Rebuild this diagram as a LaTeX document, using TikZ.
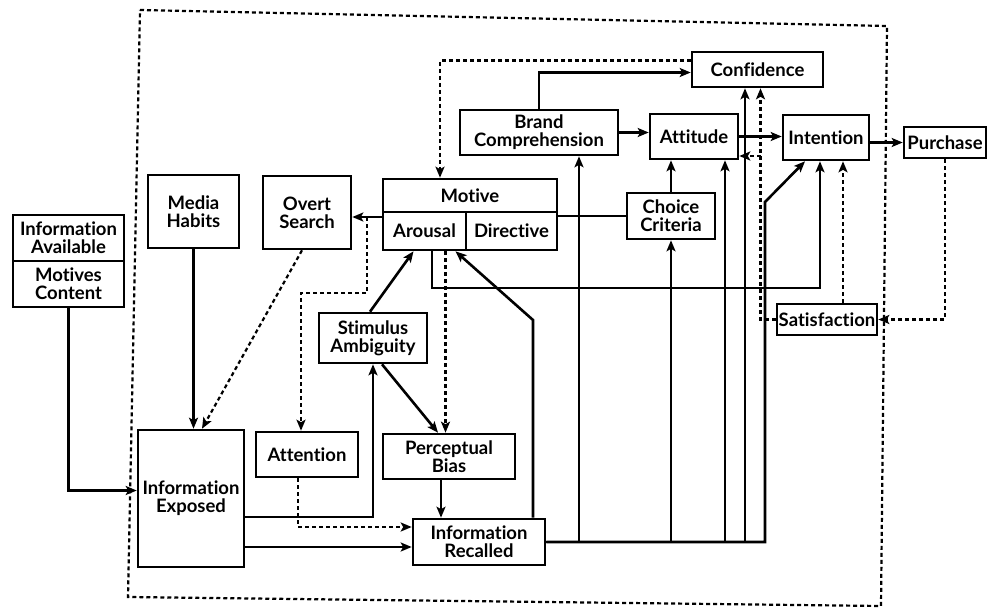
\documentclass[tikz,border=0pt]{standalone}
\usepackage{fontspec}
\setmainfont{Lato}[Ligatures=NoCommon]
\usetikzlibrary{arrows.meta,calc,positioning}

\begin{document}
\begin{tikzpicture}[x=1pt,y=-1pt,font=\bfseries\fontsize{18.5}{18}\selectfont,>={Stealth[length=11pt,width=9pt,inset=2.5pt]},
    box/.style={draw,line width=2.6pt,inner sep=0pt,align=center},
    line/.style={line width=2.6pt},
    dsh/.style={line width=2.2pt,dash pattern=on 4pt off 3pt}]
    \useasboundingbox (0,0) rectangle (988,610);
    \draw[dsh] (140,10)--(887,26)--(881,606)--(128,597)--cycle;
    % boxes
    \node[box,minimum width=111,minimum height=46] (avail) at (68.5,238) {Information\\Available};
    \node[box,minimum width=111,minimum height=46] (motcont) at (68.5,284) {Motives\\Content};
    \node[box,minimum width=91,minimum height=73] (media) at (193.5,211.5) {Media\\Habits};
    \node[box,minimum width=88,minimum height=73] (overt) at (307,212.5) {Overt\\Search};
    \node[box,minimum width=174,minimum height=33] (motive) at (470,195.5) {Motive};
    \node[box,minimum width=83,minimum height=38] (arousal) at (424.5,231) {Arousal};
    \node[box,minimum width=91,minimum height=38] (direct) at (511.5,231) {Directive};
    \node[box,minimum width=158,minimum height=45] (brand) at (539,132.5) {Brand\\Comprehension};
    \node[box,minimum width=131,minimum height=35] (conf) at (757.5,69.5) {Confidence};
    \node[box,minimum width=88,minimum height=45] (att) at (694,136.5) {Attitude};
    \node[box,minimum width=86,minimum height=45] (intent) at (826,137.5) {Intention};
    \node[box,minimum width=82,minimum height=31] (purch) at (945,142.5) {Purchase};
    \node[box,minimum width=88,minimum height=46] (choice) at (671,216) {Choice\\Criteria};
    \node[box,minimum width=100,minimum height=31] (satis) at (827,319.5) {Satisfaction};
    \node[box,minimum width=108,minimum height=50] (stim) at (373,338) {Stimulus\\Ambiguity};
    \node[box,minimum width=106,minimum height=137] (expo) at (191,498.5) {Information\\Exposed};
    \node[box,minimum width=102,minimum height=45] (attn) at (307,454.5) {Attention};
    \node[box,minimum width=132,minimum height=45] (perc) at (449,456.5) {Perceptual\\Bias};
    \node[box,minimum width=132,minimum height=46] (recall) at (479,542) {Information\\Recalled};
    % bends
    \coordinate (j1) at (367,217); \coordinate (k1) at (301,293);
    \coordinate (r1) at (533,320); \coordinate (mbus) at (432,288);
    \coordinate (ib) at (765,202); \coordinate (sfb) at (760.5,156);
    % solid links
    \draw[line,->] (motcont.south) |- ([yshift=8pt]expo.west);
    \draw[line,->] (media.south) -- (media.south |- expo.north);
    \draw[line,->] ([yshift=14pt]arousal.west) -- ([yshift=14pt]arousal.west -| overt.east);
    \draw[line] (direct.east |- choice.west) -- (choice.west);
    \draw[line,->] (brand.north) |- ([yshift=-3pt]conf.west);
    \draw[line,->] (brand.east) -- (brand.east -| att.west);
    \draw[line,->] (att.east) -- (att.east -| intent.west);
    \draw[line,->] (intent.east |- purch.west) -- (purch.west);
    \draw[line,->] (choice.north) -- (choice.north |- att.south);
    \draw[line,->] ([xshift=-3pt]stim.north) -- ([xshift=-11pt]arousal.south);
    \draw[line,->] ([xshift=9pt]stim.south) -- ([xshift=-11pt]perc.north);
    \draw[line,->] ([yshift=-18.5pt]expo.east) -| (stim.south);
    \draw[line,->] ([yshift=-5pt]recall.west -| expo.east) -- ([yshift=-5pt]recall.west);
    \draw[line,->] ([xshift=-8pt]perc.south) -- ([xshift=-8pt]perc.south |- recall.north);
    \draw[line,->] ([xshift=54pt]recall.north) -- (r1) -- ([xshift=31pt]arousal.south);
    \draw[line,->] (arousal.south -| mbus) -- (mbus) -| ([xshift=-6pt]intent.south);
    \draw[line,->] (recall.east) -| ([xshift=40pt]brand.south);
    \draw[line,->] (recall.east) -| (choice.south);
    \draw[line,->] (recall.east) -| ([xshift=31pt]att.south);
    \draw[line,->] (recall.east) -| ([xshift=-12.5pt]conf.south);
    \draw[line,->] (recall.east) -| (ib) -- ([xshift=-21pt]intent.south);
    % dashed links
    \draw[dsh,->] ([xshift=-5pt]overt.south) -- ([xshift=11pt]expo.north);
    \draw[dsh,->] (j1) |- (k1) -- ([xshift=-6pt]attn.north);
    \draw[dsh,->] ([yshift=9pt]conf.west) -| ([xshift=-30pt]motive.north);
    \draw[dsh,->] ([xshift=21pt]arousal.south) -- ([xshift=21pt]arousal.south |- perc.north);
    \draw[dsh,->] ([xshift=-9pt]attn.south) |- ([yshift=15pt]recall.west);
    \draw[dsh,->] (purch.south) |- (satis.east);
    \draw[dsh,->] ([xshift=16pt]satis.north) -- ([xshift=16pt]satis.north |- intent.south);
    \draw[dsh,->] (satis.west) -| ([xshift=3pt]conf.south);
    \draw[dsh,->] (sfb) -- (sfb -| att.east);
\end{tikzpicture}
\end{document}
